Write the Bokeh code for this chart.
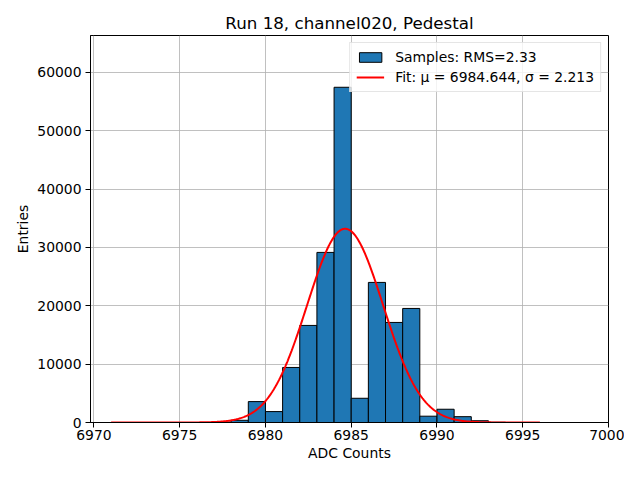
import numpy as np
from bokeh.plotting import figure
from bokeh.models import FixedTicker, BasicTickFormatter, Range1d, Legend, LegendItem, ColumnDataSource
from bokeh.embed import file_html
from bokeh.resources import INLINE

# ---- data ----
bin_left = [6977, 6978, 6979, 6980, 6981, 6982, 6983, 6984, 6985,
            6986, 6987, 6988, 6989, 6990, 6991, 6992, 6993]
bin_width = 1
counts = [80, 380, 3580, 1870, 9430, 16630, 29140, 57430, 4150,
          24000, 17140, 19540, 1080, 2270, 1000, 300, 40]

fit_mu = 6984.644
fit_sigma = 2.213
fit_amp = 33190          # peak height of fitted gaussian
fit_x_start = 6971
fit_x_end = 6996

x_ticks = [6970, 6975, 6980, 6985, 6990, 6995, 7000]
y_ticks = [0, 10000, 20000, 30000, 40000, 50000, 60000]

title_text = "Run 18, channel020, Pedestal"
x_label = "ADC Counts"
y_label = "Entries"
bar_label = "Samples: RMS=2.33"
fit_label = "Fit: \u03bc = 6984.644, \u03c3 = 2.213"

FONT = "DejaVu Sans"

bars = ColumnDataSource(dict(
    left=bin_left,
    right=[b + bin_width for b in bin_left],
    top=counts,
    bottom=[0] * len(counts),
))

fx = np.linspace(fit_x_start, fit_x_end, 600)
fy = fit_amp * np.exp(-0.5 * ((fx - fit_mu) / fit_sigma) ** 2)
fit = ColumnDataSource(dict(x=fx, y=fy))

p = figure(width=624, height=464, output_backend="svg", toolbar_location=None,
           x_range=Range1d(6969.8, 7000), y_range=Range1d(0, 66300),
           min_border_left=90, min_border_right=16, min_border_top=35,
           min_border_bottom=42)

p.title.text = title_text
p.title.align = "center"
p.title.text_font = FONT
p.title.text_font_size = "16.7px"
p.title.text_font_style = "normal"
p.title.text_color = "black"
p.title.standoff = 6

r_bar = p.quad(left="left", right="right", top="top", bottom="bottom", source=bars,
               fill_color="#1f77b4", line_color="black", line_width=1)
r_fit = p.line("x", "y", source=fit, line_color="red", line_width=2)

for ax in (p.xaxis[0], p.yaxis[0]):
    ax.major_label_text_font = FONT
    ax.major_label_text_font_size = "13.9px"
    ax.major_label_text_color = "black"
    ax.axis_label_text_font = FONT
    ax.axis_label_text_font_size = "13.9px"
    ax.axis_label_text_font_style = "normal"
    ax.axis_label_text_color = "black"
    ax.major_tick_in = 0
    ax.major_tick_out = 5
    ax.minor_tick_line_color = None
    ax.axis_line_color = "black"
    ax.major_tick_line_color = "black"

p.xaxis.ticker = FixedTicker(ticks=x_ticks)
p.yaxis.ticker = FixedTicker(ticks=y_ticks)
p.yaxis.formatter = BasicTickFormatter(use_scientific=False)
p.xaxis.axis_label = x_label
p.yaxis.axis_label = y_label
p.xaxis.major_label_standoff = 2
p.xaxis.axis_label_standoff = 2
p.yaxis.major_label_standoff = 4
p.yaxis.axis_label_standoff = 3

p.xgrid.ticker = FixedTicker(ticks=x_ticks)
p.ygrid.ticker = FixedTicker(ticks=y_ticks)
p.grid.grid_line_color = "#b0b0b0"
p.grid.grid_line_width = 0.8

p.outline_line_color = "black"
p.outline_line_alpha = 1
p.outline_line_width = 1
p.background_fill_color = "white"
p.border_fill_color = "white"

legend = Legend(items=[LegendItem(label=bar_label, renderers=[r_bar]),
                       LegendItem(label=fit_label, renderers=[r_fit])],
                location="top_right")
legend.label_text_font = FONT
legend.label_text_font_size = "13.9px"
legend.label_text_color = "black"
legend.glyph_width = 28
legend.glyph_height = 12
legend.label_height = 14
legend.spacing = 4
legend.padding = 6
legend.margin = 7
legend.label_standoff = 11
legend.border_line_color = "#cccccc"
legend.border_line_width = 1
legend.background_fill_alpha = 0.8
p.add_layout(legend)

open("out.html", "w").write(file_html(p, INLINE))
